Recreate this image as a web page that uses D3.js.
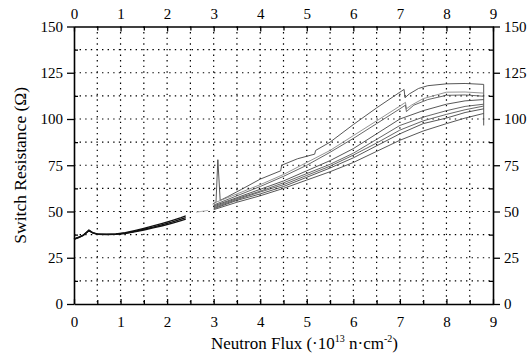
<!DOCTYPE html>
<html>
<head>
<meta charset="utf-8">
<script src="https://cdn.jsdelivr.net/npm/d3@7"></script>
<style>
  body { margin: 0; background: #fff; }
  svg, svg text { font-family: "Liberation Serif", "Times New Roman", Times, "DejaVu Serif", serif; }
  .grid line { stroke: #000; stroke-width: 1.2; stroke-dasharray: 1.4,4.2; }
  .axis path, .axis line { stroke: #000; }
  .axis text { font-size: 15px; fill: #000; }
</style>
</head>
<body>
<div id="chart"></div>
<script>
const width = 528, height = 356;
const margin = { top: 26.5, right: 35, bottom: 52, left: 74 };
const serif = '"Liberation Serif", "Times New Roman", Times, "DejaVu Serif", serif';

// tick labels
const xTickLabels = [0, 1, 2, 3, 4, 5, 6, 7, 8, 9];
const xMinorTicks = [0.5, 1.5, 2.5, 3.5, 4.5, 5.5, 6.5, 7.5, 8.5];
const yTickLabels = [0, 25, 50, 75, 100, 125, 150];
const yMinorTicks = [12.5, 37.5, 62.5, 87.5, 112.5, 137.5];

// low flux bundle (0 - 2.4)
const lowA = [[0,35],[0.1,36],[0.2,37.2],[0.27,38.6],[0.32,39.8],[0.4,38.5],[0.5,37.8],[0.7,37.6],[0.9,37.8],[1.1,38.3],[1.3,39.3],[1.5,40.4],[1.7,41.6],[1.9,42.9],[2.1,44.3],[2.3,45.9],[2.4,46.7]];
const lowB = [[0,35.2],[0.1,36.1],[0.2,37.3],[0.27,38.8],[0.32,39.9],[0.4,38.6],[0.5,37.9],[0.7,37.7],[0.9,37.9],[1.1,38.6],[1.3,39.7],[1.5,40.9],[1.7,42.2],[1.9,43.6],[2.1,45.1],[2.3,46.7],[2.4,47.6]];
const lowC = [[0,34.9],[0.1,35.9],[0.2,37.1],[0.27,38.5],[0.32,39.6],[0.4,38.4],[0.5,37.7],[0.7,37.5],[0.9,37.7],[1.1,38.1],[1.3,39.0],[1.5,40.0],[1.7,41.1],[1.9,42.3],[2.1,43.6],[2.3,45.1],[2.4,45.9]];
const lowCurves = [lowA, lowB, lowC];

// faint trace between the runs
const gapTrace = [[2.62,49.6],[2.75,50.1],[2.88,50.6]];

// high flux curves (3 - 8.8)
const highA = [[2.98,54],[3.05,55],[3.09,78],[3.14,56],[3.3,58],[3.6,62],[4.0,67.5],[4.44,72],[4.46,75],[4.8,78.5],[5.17,81],[5.19,83],[5.5,87.5],[6.0,97],[6.5,106],[7.0,114.5],[7.09,116],[7.11,111.5],[7.2,113.5],[7.4,116.5],[7.6,118],[8.0,119],[8.4,119.2],[8.8,118.7],[8.8,96.5]];
const highB = [[3.0,54.5],[3.5,59.5],[4.0,64.5],[4.5,70],[5.0,76.5],[5.5,83],[6.0,91],[6.5,99],[7.0,107],[7.12,109],[7.14,105.5],[7.25,107.5],[7.5,111],[8.0,114.5],[8.4,114.6],[8.8,114]];
const highC = [[3.0,53.5],[3.5,58.5],[4.0,63.5],[4.5,69],[5.0,75],[5.5,82],[6.0,89.5],[6.5,97.5],[7.0,105.5],[7.12,107.5],[7.14,104],[7.3,107.5],[7.6,110.5],[8.0,112.8],[8.4,113],[8.8,112.3]];
const highD = [[3.0,53],[3.5,57.5],[4.0,62],[4.5,66.5],[5.0,72],[5.5,77.5],[6.0,84],[6.5,92],[7.0,100],[7.5,104.5],[8.0,108],[8.4,109.8],[8.8,110.5]];
const highE = [[3.0,52.5],[3.5,57],[4.0,61],[4.5,65.5],[5.0,70.5],[5.5,75.5],[6.0,81.5],[6.5,89],[7.0,96.5],[7.5,101],[8.0,104.5],[8.4,106.8],[8.8,108]];
const highF = [[3.0,52],[3.5,56.5],[4.0,60.5],[4.5,64.5],[5.0,69.5],[5.5,74.5],[6.0,80.5],[6.5,87],[7.0,94],[7.5,99],[8.0,102.5],[8.4,105],[8.8,107]];
const highG = [[3.0,51.5],[3.5,56],[4.0,59.5],[4.5,63.5],[5.0,68.5],[5.5,73.5],[6.0,79],[6.5,85.5],[7.0,92],[7.5,97.5],[8.0,100.5],[8.4,103.5],[8.8,105.5]];
const highH = [[3.0,51],[3.5,55],[4.0,58.5],[4.5,62.5],[5.0,67],[5.5,71.5],[6.0,76.5],[6.5,82.5],[7.0,88.5],[7.5,93.5],[8.0,97.5],[8.4,100.5],[8.8,103]];
const highCurves = [highA, highB, highC, highD, highE, highF, highG, highH];
const highColors = ['#444', '#888', '#555', '#444', '#555', '#555', '#444', '#444'];

const svg = d3.select('#chart').append('svg')
  .attr('width', width)
  .attr('height', height);

const x = d3.scaleLinear().domain([0, 9]).range([margin.left, width - margin.right]);
const y = d3.scaleLinear().domain([0, 150]).range([height - margin.bottom, margin.top]);

// dotted grid
const grid = svg.append('g').attr('class', 'grid');
grid.selectAll('.gx')
  .data(xTickLabels.concat(xMinorTicks).filter(d => d > 0 && d < 9))
  .enter().append('line')
  .attr('x1', d => x(d)).attr('x2', d => x(d))
  .attr('y1', y(150)).attr('y2', y(0));
grid.selectAll('.gy')
  .data(yTickLabels.concat(yMinorTicks).filter(d => d > 0 && d < 150))
  .enter().append('line')
  .attr('x1', x(0)).attr('x2', x(9))
  .attr('y1', d => y(d)).attr('y2', d => y(d));

const line = d3.line().x(d => x(d[0])).y(d => y(d[1]));

svg.append('path')
  .datum(gapTrace)
  .attr('d', line)
  .attr('fill', 'none')
  .attr('stroke', '#bbb')
  .attr('stroke-width', 1);

svg.selectAll('.low')
  .data(lowCurves)
  .enter().append('path')
  .attr('class', 'low')
  .attr('d', line)
  .attr('fill', 'none')
  .attr('stroke', '#111')
  .attr('stroke-width', 1.3);

svg.selectAll('.high')
  .data(highCurves)
  .enter().append('path')
  .attr('class', 'high')
  .attr('d', line)
  .attr('fill', 'none')
  .attr('stroke', (d, i) => highColors[i])
  .attr('stroke-width', 0.9);

// axes: majors with labels, minors without
function addAxis(axisFn, scale, ticks, minor, transform, majorSize, minorSize) {
  const g = svg.append('g').attr('class', 'axis').attr('transform', transform);
  g.call(axisFn(scale).tickValues(ticks).tickSize(majorSize).tickSizeOuter(0).tickPadding(4).tickFormat(d3.format('d')));
  g.attr('font-family', serif).attr('font-size', 15);
  g.select('.domain').attr('stroke-width', 1.6);
  g.selectAll('.tick line').attr('stroke-width', 1.3);
  const m = svg.append('g').attr('class', 'axis').attr('transform', transform);
  m.call(axisFn(scale).tickValues(minor).tickSize(minorSize).tickSizeOuter(0).tickFormat(''));
  m.select('.domain').remove();
  m.selectAll('.tick line').attr('stroke-width', 1.3);
  return g;
}

const bottomAxis = addAxis(d3.axisBottom, x, xTickLabels, xMinorTicks, `translate(0,${y(0)})`, -5, -4);
bottomAxis.selectAll('.tick text').attr('y', 12);
const topAxis = addAxis(d3.axisTop, x, xTickLabels, xMinorTicks, `translate(0,${y(150)})`, -5, -4);
topAxis.selectAll('.tick text').attr('y', -8);
addAxis(d3.axisLeft, y, yTickLabels, yMinorTicks, `translate(${x(0)},0)`, 7, -4);
addAxis(d3.axisRight, y, yTickLabels, yMinorTicks, `translate(${x(9)},0)`, 7, -4);

// axis titles
const xt = svg.append('text')
  .attr('x', 211)
  .attr('y', 349)
  .attr('text-anchor', 'start')
  .attr('font-family', serif)
  .style('font-size', '17px');
xt.append('tspan').text('Neutron Flux (\u00b710');
xt.append('tspan').attr('dy', -7).style('font-size', '10px').text('13');
xt.append('tspan').attr('dy', 7).text(' n\u00b7cm');
xt.append('tspan').attr('dy', -7).style('font-size', '10px').text('-2');
xt.append('tspan').attr('dy', 7).text(')');

svg.append('text')
  .attr('transform', `translate(26,${(y(0) + y(150)) / 2}) rotate(-90)`)
  .attr('text-anchor', 'middle')
  .attr('font-family', serif)
  .style('font-size', '17.5px')
  .text('Switch Resistance (\u03a9)');
</script>
</body>
</html>
